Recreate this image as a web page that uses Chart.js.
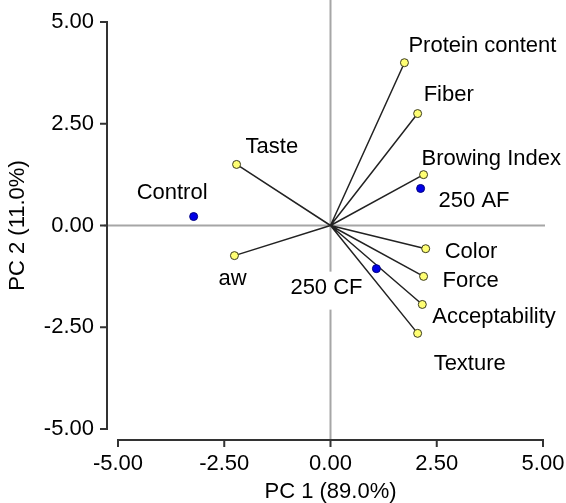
<!DOCTYPE html>
<html>
<head>
<meta charset="utf-8">
<script src="https://cdn.jsdelivr.net/npm/chart.js@4"></script>
<style>
  html, body { margin: 0; padding: 0; background: #fff; }
  #wrap { width: 566px; height: 503px; }
</style>
</head>
<body>
<div id="wrap"><canvas id="pca"></canvas></div>
<script>
// PCA biplot data
const loadingNames = ['Protein content', 'Fiber', 'Browing Index', 'Taste', 'aw', 'Color', 'Force', 'Acceptability', 'Texture'];
const loadingPc1 = [1.74, 2.05, 2.19, -2.21, -2.26, 2.24, 2.19, 2.16, 2.05];
const loadingPc2 = [4.00, 2.75, 1.25, 1.50, -0.74, -0.57, -1.25, -1.94, -2.65];

const sampleNames = ['Control', '250 AF', '250 CF'];
const samplePc1 = [-3.22, 2.12, 1.08];
const samplePc2 = [0.22, 0.91, -1.06];

const axisTicks = [-5, -2.5, 0, 2.5, 5];

// label placement, pixel offsets from each point (left edge, middle)
const loadingLabelOffsets = [[4, -17], [6, -19], [-2, -16], [9, -18], [-16, 23], [19, 3], [19, 5], [10, 12], [16, 31]];
const sampleLabelOffsets = [[-57, -24], [18, 12], [-86, 19]];

const FONT = 'Liberation Sans, Arial, sans-serif';
const FONT_SIZE = 22;

const biplotPlugin = {
    id: 'biplot',
    beforeDatasetsDraw(chart) {
        const { ctx, chartArea, scales: { x, y } } = chart;
        const x0 = x.getPixelForValue(0), y0 = y.getPixelForValue(0);
        const axisX = chartArea.left - 11, axisY = chartArea.bottom + 11;
        ctx.save();

        // zero lines
        ctx.strokeStyle = '#a6a6a6';
        ctx.lineWidth = 2;
        ctx.beginPath();
        ctx.moveTo(axisX - 3, y0); ctx.lineTo(x.getPixelForValue(5) + 2, y0);
        ctx.moveTo(x0, 0); ctx.lineTo(x0, axisY);
        ctx.stroke();

        // offset axes
        ctx.strokeStyle = '#333';
        ctx.lineWidth = 2;
        ctx.beginPath();
        ctx.moveTo(axisX, y.getPixelForValue(5)); ctx.lineTo(axisX, y.getPixelForValue(-5));
        axisTicks.forEach(v => {
            const py = y.getPixelForValue(v);
            ctx.moveTo(axisX + 1, py); ctx.lineTo(axisX - 7, py);
        });
        ctx.moveTo(x.getPixelForValue(-5), axisY); ctx.lineTo(x.getPixelForValue(5), axisY);
        axisTicks.forEach(v => {
            const px = x.getPixelForValue(v);
            ctx.moveTo(px, axisY - 1); ctx.lineTo(px, axisY + 7);
        });
        ctx.stroke();

        // point labels with white backing
        ctx.font = FONT_SIZE + 'px ' + FONT;
        ctx.textBaseline = 'middle';
        ctx.textAlign = 'left';
        const drawLabel = (txt, vx, vy, off) => {
            const px = x.getPixelForValue(vx) + off[0];
            const py = y.getPixelForValue(vy) + off[1];
            const w = ctx.measureText(txt).width;
            ctx.fillStyle = '#fff';
            ctx.fillRect(px - 3, py - 16, w + 6, 38);
            ctx.fillStyle = '#000';
            ctx.fillText(txt, px, py);
        };
        loadingNames.forEach((n, i) => drawLabel(n, loadingPc1[i], loadingPc2[i], loadingLabelOffsets[i]));
        sampleNames.forEach((n, i) => drawLabel(n, samplePc1[i], samplePc2[i], sampleLabelOffsets[i]));

        // loading vectors
        ctx.strokeStyle = '#222';
        ctx.lineWidth = 1.5;
        ctx.beginPath();
        loadingNames.forEach((n, i) => {
            ctx.moveTo(x0, y0);
            ctx.lineTo(x.getPixelForValue(loadingPc1[i]), y.getPixelForValue(loadingPc2[i]));
        });
        ctx.stroke();
        ctx.restore();
    }
};

const tickFont = { family: FONT, size: FONT_SIZE };

new Chart(document.getElementById('pca'), {
    type: 'scatter',
    data: {
        datasets: [
            {
                label: 'Loadings',
                data: loadingNames.map((n, i) => ({ x: loadingPc1[i], y: loadingPc2[i] })),
                backgroundColor: '#ffff73',
                borderColor: '#3a3a20',
                borderWidth: 1,
                pointRadius: 4
            },
            {
                label: 'Samples',
                data: sampleNames.map((n, i) => ({ x: samplePc1[i], y: samplePc2[i] })),
                backgroundColor: '#0000e6',
                borderColor: '#000080',
                borderWidth: 1,
                pointRadius: 4
            }
        ]
    },
    options: {
        responsive: true,
        maintainAspectRatio: false,
        animation: false,
        layout: { padding: { top: 22, right: 23, left: 0, bottom: 0 } },
        plugins: { legend: { display: false }, tooltip: { enabled: false } },
        scales: {
            x: {
                min: -5, max: 5,
                afterFit: s => { s.height = 74; s.paddingLeft = 0; s.paddingRight = 0; },
                afterBuildTicks: s => { s.ticks = axisTicks.map(v => ({ value: v })); },
                grid: { display: false, drawTicks: false },
                border: { display: false },
                ticks: { padding: 22, color: '#000', font: tickFont, callback: v => v.toFixed(2) },
                title: {
                    display: true, text: 'PC 1 (89.0%)', color: '#000',
                    font: { family: FONT, size: FONT_SIZE, lineHeight: 1 },
                    padding: { top: 0, bottom: 0 }
                }
            },
            y: {
                min: -5, max: 5,
                afterFit: s => { s.width = 118; s.paddingTop = 0; s.paddingBottom = 0; },
                afterBuildTicks: s => { s.ticks = axisTicks.map(v => ({ value: v })); },
                grid: { display: false, drawTicks: false },
                border: { display: false },
                ticks: { padding: 24, color: '#000', font: tickFont, callback: v => v.toFixed(2) },
                title: {
                    display: true, text: 'PC 2 (11.0%)', color: '#000',
                    font: { family: FONT, size: FONT_SIZE, lineHeight: 1 },
                    padding: { top: 7, bottom: 0 }
                }
            }
        }
    },
    plugins: [biplotPlugin]
});
</script>
</body>
</html>
